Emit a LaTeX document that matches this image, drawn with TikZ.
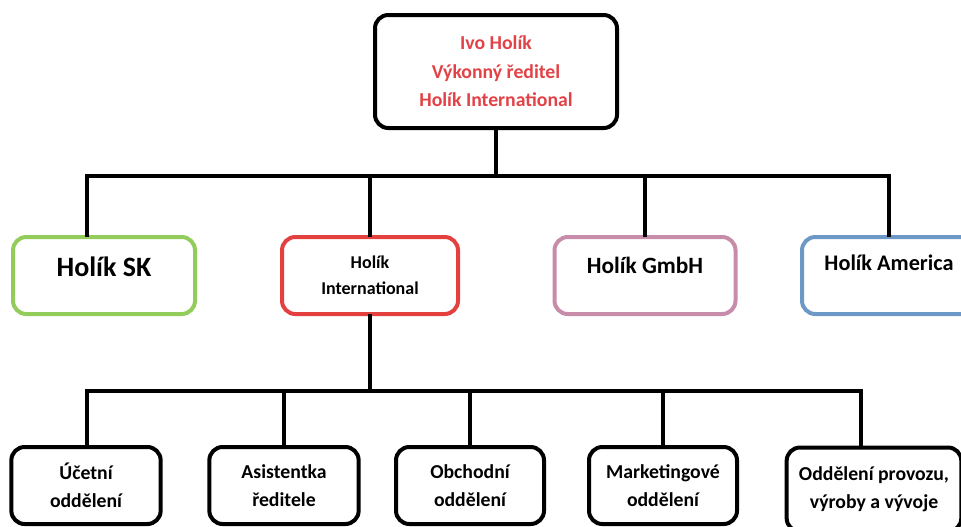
\documentclass[tikz,border=0pt]{standalone}
\usepackage{fontspec}
\setmainfont{Carlito}
\definecolor{bossred}{RGB}{226,66,70}
\definecolor{skgreen}{RGB}{146,204,90}
\definecolor{intlred}{RGB}{228,64,64}
\definecolor{gmbhpink}{RGB}{198,140,170}
\definecolor{usblue}{RGB}{108,152,200}

\begin{document}
\begin{tikzpicture}[x=0.75pt,y=-0.75pt,
    box/.style={draw,line width=3pt,rounded corners=10pt,align=center,font=\bfseries},
    firm/.style={box,minimum height=57.75pt},
    dept/.style={box,minimum width=112pt,minimum height=57.75pt,font=\bfseries\fontsize{14.8}{21}\selectfont},
    link/.style={line width=3pt,line cap=rect}]
  \useasboundingbox (0,0) rectangle (961,526);
  \clip (0,0) rectangle (961,526);

  \node (top) at (496,71.5) [box,minimum width=181.5pt,minimum height=84.75pt,
    text=bossred,font=\bfseries\fontsize{14.8}{21.4}\selectfont]
    {Ivo Holík\\Výkonný ředitel\\Holík International};

  \node (sk) at (104,275.5) [firm,draw=skgreen,minimum width=136.5pt,text depth=13pt,
    font=\bfseries\fontsize{21}{25}\selectfont] {Holík SK};
  \node (intl) at (370,275.5) [firm,draw=intlred,minimum width=132pt,
    font=\bfseries\fontsize{13.5}{19.5}\selectfont] {Holík\\International};
  \node (gmbh) at (645,275.5) [firm,draw=gmbhpink,minimum width=135.75pt,text depth=15pt,
    font=\bfseries\fontsize{17.5}{21}\selectfont] {Holík GmbH};
  \node (america) at (889,275.5) [firm,draw=usblue,minimum width=130.5pt,text depth=19.5pt,
    font=\bfseries\fontsize{16.7}{21}\selectfont] {Holík America};

  \node (ucet) at (86,485.5) [dept] {Účetní\\oddělení};
  \node (asist) at (284,485.5) [dept] {Asistentka\\ředitele};
  \node (obchod) at (470,485.5) [dept,minimum width=111pt] {Obchodní\\oddělení};
  \node (market) at (663,485.5) [dept,minimum width=111pt] {Marketingové\\oddělení};
  \node (provoz) at (874,489.5) [dept,minimum width=131pt,minimum height=63pt]
    {Oddělení provozu,\\výroby a vývoje};

  \coordinate (busL) at (87,176);
  \coordinate (busR) at (889,176);
  \coordinate (subL) at (87,391);
  \coordinate (subR) at (861,391);

  \draw[link] (top) -- (top |- busL);
  \draw[link] (busL) -- (busR);
  \draw[link] (busL) -- (busL |- sk.north);
  \draw[link] (intl |- busL) -- (intl);
  \draw[link] (gmbh |- busL) -- (gmbh);
  \draw[link] (busR) -- (america);

  \draw[link] (intl) -- (intl |- subL);
  \draw[link] (subL) -- (subR);
  \draw[link] (subL) -- (subL |- ucet.north);
  \draw[link] (asist |- subL) -- (asist);
  \draw[link] (obchod |- subL) -- (obchod);
  \draw[link] (market |- subL) -- (market);
  \draw[link] (subR) -- (subR |- provoz.north);
\end{tikzpicture}
\end{document}
